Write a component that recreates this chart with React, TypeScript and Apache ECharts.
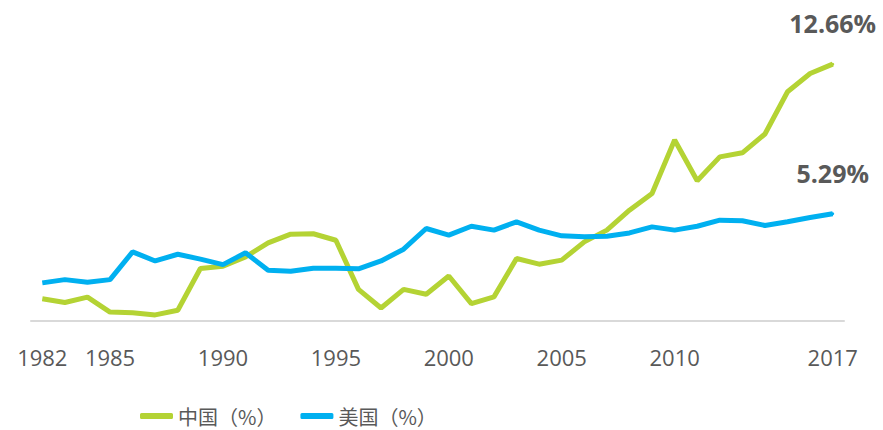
import React, { useEffect, useRef } from "react";
import * as echarts from "echarts";

const years = [
  "1982", "1983", "1984", "1985", "1986", "1987", "1988", "1989", "1990", "1991",
  "1992", "1993", "1994", "1995", "1996", "1997", "1998", "1999", "2000", "2001",
  "2002", "2003", "2004", "2005", "2006", "2007", "2008", "2009", "2010", "2011",
  "2012", "2013", "2014", "2015", "2016", "2017",
];
const shownYears = ["1982", "1985", "1990", "1995", "2000", "2005", "2010", "2017"];

const china = [
  1.1, 0.91, 1.18, 0.44, 0.41, 0.3, 0.53, 2.59, 2.7, 3.16,
  3.85, 4.28, 4.3, 3.98, 1.56, 0.64, 1.56, 1.32, 2.22, 0.86,
  1.19, 3.08, 2.8, 3.0, 3.9, 4.48, 5.46, 6.29, 8.92, 6.91,
  8.09, 8.29, 9.22, 11.3, 12.2, 12.66,
];
const usa = [
  1.88, 2.04, 1.91, 2.04, 3.41, 2.96, 3.29, 3.05, 2.78, 3.36,
  2.5, 2.45, 2.6, 2.6, 2.57, 2.96, 3.54, 4.56, 4.23, 4.67,
  4.48, 4.89, 4.48, 4.2, 4.15, 4.18, 4.34, 4.64, 4.48, 4.67,
  4.97, 4.94, 4.71, 4.89, 5.1, 5.29,
];
const seriesNames = ["中国（%）", "美国（%）"];
const endLabels = ["12.66%", "5.29%"];

const GREEN = "#b4d334";
const BLUE = "#00b0f0";
const TEXT = "#595959";

function withEndLabel(values: number[], label: string, color: string) {
  return values.map((v, i) =>
    i === values.length - 1
      ? {
          value: v,
          symbol: "circle",
          symbolSize: 3,
          itemStyle: { color },
          label: {
            show: true,
            position: "top",
            distance: 27,
            formatter: label,
            fontFamily: "'Open Sans', sans-serif",
            fontWeight: "bold",
            fontSize: 25,
            color: TEXT,
          },
        }
      : v
  );
}

export default function App() {
  const ref = useRef<HTMLDivElement>(null);
  useEffect(() => {
    document.body.style.margin = "0";
    if (!ref.current) return;
    const chart = echarts.init(ref.current, undefined, { renderer: "svg" });
    chart.setOption({
      animation: false,
      backgroundColor: "#ffffff",
      grid: { left: 31, right: 39, top: 37, bottom: 109, containLabel: false },
      legend: {
        left: 138,
        top: 404,
        padding: [0, 2],
        itemWidth: 33,
        itemHeight: 6,
        itemGap: 24,
        icon: "roundRect",
        textStyle: {
          fontFamily: "'Noto Sans CJK SC', sans-serif",
          fontSize: 20,
          lineHeight: 24,
          color: TEXT,
        },
        data: seriesNames,
      },
      xAxis: {
        type: "category",
        data: years,
        boundaryGap: true,
        axisLine: { lineStyle: { color: "#d9d9d9", width: 2 } },
        axisTick: { show: false },
        axisLabel: {
          interval: (_i: number, v: string) => shownYears.includes(v),
          margin: 25,
          fontFamily: "'Open Sans', sans-serif",
          fontSize: 22,
          color: TEXT,
        },
      },
      yAxis: {
        type: "value",
        min: 0,
        max: 14,
        show: false,
        splitLine: { show: false },
      },
      series: [
        {
          name: seriesNames[0],
          type: "line",
          data: withEndLabel(china, endLabels[0], GREEN),
          symbol: "none",
          lineStyle: { color: GREEN, width: 5 },
          itemStyle: { color: GREEN },
        },
        {
          name: seriesNames[1],
          type: "line",
          data: withEndLabel(usa, endLabels[1], BLUE),
          symbol: "none",
          lineStyle: { color: BLUE, width: 5 },
          itemStyle: { color: BLUE },
        },
      ],
    });
    return () => chart.dispose();
  }, []);
  return <div ref={ref} style={{ width: 883, height: 430 }} />;
}
